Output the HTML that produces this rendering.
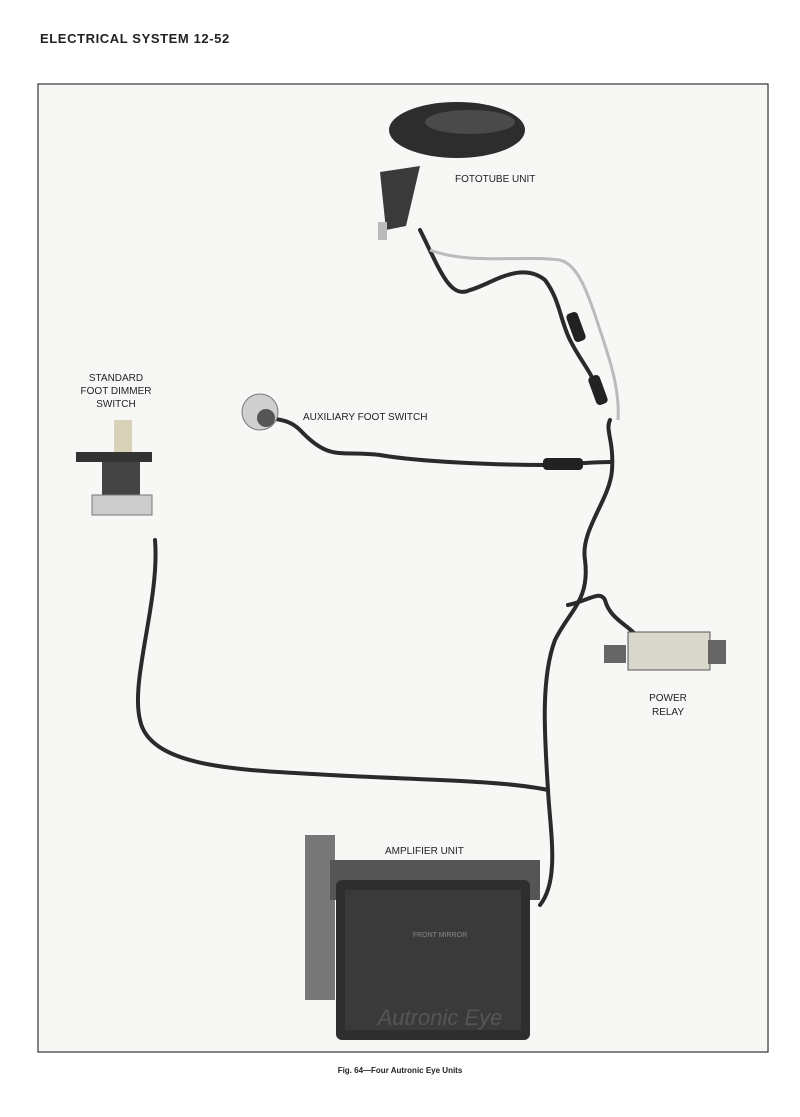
<!DOCTYPE html>
<html><head><meta charset="utf-8"><style>
html,body{margin:0;padding:0;background:#fff;}
body{width:800px;height:1117px;position:relative;overflow:hidden;font-family:"Liberation Sans",sans-serif;}
</style></head><body>
<svg width="800" height="1117" viewBox="0 0 800 1117" xmlns="http://www.w3.org/2000/svg" style="position:absolute;left:0;top:0">
<rect x="0" y="0" width="800" height="1117" fill="#fff"/>
<text x="40" y="43" font-family="Liberation Sans, sans-serif" font-weight="bold" font-size="13" fill="#222" letter-spacing="0.6">ELECTRICAL SYSTEM 12-52</text>
<rect x="38" y="84" width="730" height="968" fill="#f7f7f6" stroke="#333" stroke-width="1.2"/>
<!-- wires -->
<g fill="none" stroke="#2a2a2a" stroke-width="4" stroke-linecap="round">
<path d="M155 540 C160 600,130 680,140 720 C150 770,250 770,330 775 C420 780,500 780,548 790"/>
<path d="M548 790 C545 740,540 680,555 640 C570 610,590 600,585 560 C580 530,610 500,612 470 C614 440,605 430,610 420"/>
<path d="M548 790 C550 830,560 880,540 905"/>
<path d="M612 462 C590 462,560 465,545 465 M545 465 C500 465,420 462,380 455 C340 450,330 462,300 430 C290 420,280 420,270 418"/>
<path d="M568 605 C590 600,600 590,605 600 C610 620,630 625,640 640"/>
<path d="M420 230 C440 270,450 300,470 290 C490 285,520 260,545 280 C560 300,560 320,570 340 C580 360,590 370,598 390"/>
</g>
<g fill="none" stroke="#bbb" stroke-width="3">
<path d="M430 250 C470 265,520 255,560 260 C580 265,590 300,600 330 C610 360,620 390,618 420"/>
</g>
<rect x="543" y="458" width="40" height="12" rx="4" fill="#222"/>
<rect x="570" y="312" width="12" height="30" rx="4" fill="#222" transform="rotate(-20 576 327)"/>
<rect x="592" y="375" width="12" height="30" rx="4" fill="#222" transform="rotate(-20 598 390)"/>
<!-- fototube -->
<ellipse cx="457" cy="130" rx="68" ry="28" fill="#2d2d2d"/>
<ellipse cx="470" cy="122" rx="45" ry="12" fill="#4a4a4a"/>
<path d="M380 172 L420 166 L406 226 L386 230 Z" fill="#3a3a3a"/>
<rect x="378" y="222" width="9" height="18" fill="#bbb"/>
<text x="455" y="182" font-size="10" fill="#222">FOTOTUBE UNIT</text>
<!-- aux switch -->
<circle cx="260" cy="412" r="18" fill="#cfcfcf" stroke="#777"/>
<circle cx="266" cy="418" r="9" fill="#555"/>
<text x="303" y="420" font-size="10" fill="#222">AUXILIARY FOOT SWITCH</text>
<!-- dimmer switch -->
<rect x="114" y="420" width="18" height="32" fill="#d8d2b8"/>
<rect x="76" y="452" width="76" height="10" fill="#333"/>
<rect x="102" y="462" width="38" height="36" fill="#444"/>
<rect x="92" y="495" width="60" height="20" fill="#ccc" stroke="#777"/>
<g font-size="10" fill="#222" text-anchor="middle">
<text x="116" y="381">STANDARD</text><text x="116" y="394">FOOT DIMMER</text><text x="116" y="407">SWITCH</text>
<text x="668" y="701">POWER</text><text x="668" y="715">RELAY</text>
</g>
<!-- power relay -->
<rect x="628" y="632" width="82" height="38" fill="#d9d6cc" stroke="#555"/>
<rect x="604" y="645" width="22" height="18" fill="#666"/>
<rect x="708" y="640" width="18" height="24" fill="#666"/>
<!-- amplifier -->
<rect x="305" y="835" width="30" height="165" fill="#777"/>
<rect x="330" y="860" width="210" height="40" fill="#555"/>
<rect x="336" y="880" width="194" height="160" rx="6" fill="#2e2e2e"/>
<rect x="345" y="890" width="176" height="140" fill="#3a3a3a"/>
<text x="385" y="854" font-size="10" fill="#222">AMPLIFIER UNIT</text>
<text x="440" y="937" font-size="7" fill="#888" text-anchor="middle">FRONT MIRROR</text>
<text x="440" y="1025" font-size="22" font-style="italic" fill="#555" text-anchor="middle">Autronic Eye</text>
<text x="400" y="1073" font-size="8" font-weight="bold" fill="#222" text-anchor="middle">Fig. 64—Four Autronic Eye Units</text>
</svg>
</body></html>
